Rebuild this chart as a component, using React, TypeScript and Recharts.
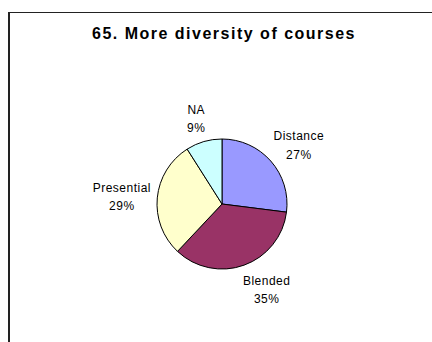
import React from "react";
import { PieChart, Pie, Cell } from "recharts";

const TITLE = "65. More diversity of courses";
const CATEGORIES = ["Distance", "Blended", "Presential", "NA"];
const SHARES = [27, 35, 29, 9];
const COLORS = ["#9999FF", "#993366", "#FFFFCC", "#CCFFFF"];

const rows = CATEGORIES.map((name, i) => ({ name, value: SHARES[i] }));

const FONT = '"Liberation Sans", Arial, sans-serif';
const RAD = Math.PI / 180;

// rough text width for label box offset (12px Arial-ish)
const textWidth = (s: string) => s.length * 5.9;

function renderLabel(props: any) {
  const { cx, cy, midAngle, outerRadius, name, value } = props;
  const dx = Math.cos(-midAngle * RAD);
  const dy = Math.sin(-midAngle * RAD);
  const pct = `${value}%`;
  const w = Math.max(textWidth(name), textWidth(pct));
  const h = 30;
  // box sits just outside the rim, pushed out by half its size
  const x = cx + (outerRadius + 6) * dx + Math.sign(dx) * (w / 2);
  const y = cy + (outerRadius + 10) * dy + dy * (h / 2);
  return (
    <text
      x={x}
      y={y}
      textAnchor="middle"
      fontFamily={FONT}
      fontSize={12}
      letterSpacing={0.5}
      fill="#000"
    >
      <tspan x={x} dy={-4}>{name}</tspan>
      <tspan x={x} dy={18.5}>{pct}</tspan>
    </text>
  );
}

export default function App() {
  return (
    <div
      style={{
        position: "relative",
        width: 432,
        height: 342,
        overflow: "hidden",
        background: "#fff",
        fontFamily: FONT,
      }}
    >
      <style>{`body{margin:0;overflow:hidden}`}</style>
      <div
        style={{
          position: "absolute",
          left: 8,
          top: 12,
          width: 440,
          height: 340,
          borderLeft: "2px solid #222",
          borderTop: "1px solid #222",
        }}
      />
      <div
        style={{
          position: "absolute",
          left: 0,
          top: 25,
          width: 448,
          textAlign: "center",
          fontSize: 16,
          lineHeight: "18px",
          fontWeight: "bold",
          letterSpacing: 1.5,
          color: "#000",
        }}
      >
        {TITLE}
      </div>
      <div style={{ position: "absolute", left: 0, top: 0 }}>
        <PieChart width={432} height={342} margin={{ top: 0, right: 0, bottom: 0, left: 0 }}>
          <Pie
            data={rows}
            dataKey="value"
            nameKey="name"
            cx={222}
            cy={204}
            outerRadius={65}
            startAngle={90}
            endAngle={-270}
            stroke="#000"
            strokeWidth={1}
            labelLine={false}
            label={renderLabel}
            isAnimationActive={false}
          >
            {rows.map((_, i) => (
              <Cell key={i} fill={COLORS[i]} />
            ))}
          </Pie>
        </PieChart>
      </div>
    </div>
  );
}
